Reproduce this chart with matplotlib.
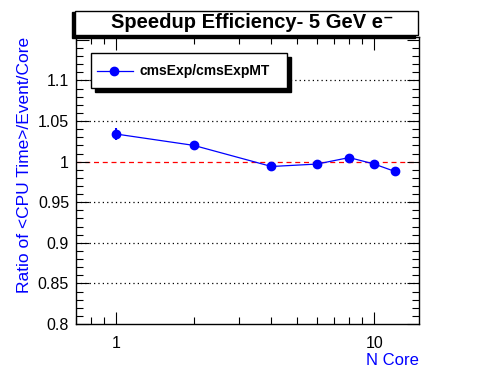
import matplotlib
matplotlib.use("Agg")
import matplotlib.pyplot as plt
from matplotlib.patches import Rectangle
from matplotlib.ticker import FixedLocator, MultipleLocator, LogLocator, NullFormatter, FuncFormatter

# data
n_core = [1, 2, 4, 6, 8, 10, 12]
ratio = [1.034, 1.020, 0.994, 0.997, 1.005, 0.997, 0.988]
ratio_err = [0.0075, 0.002, 0.002, 0.002, 0.002, 0.002, 0.002]
y_grid = [0.85, 0.9, 0.95, 1.05, 1.1]

plt.rcParams["font.family"] = ["Liberation Sans", "DejaVu Sans"]

fig = plt.figure(figsize=(4.96, 3.72), dpi=100)
ax = fig.add_axes([76 / 496, 48 / 372, 343 / 496, 287 / 372])

ax.set_xscale("log")
ax.set_xlim(0.70, 14.9)
ax.set_ylim(0.8, 1.1535)

for g in y_grid:
    ax.axhline(g, color="black", lw=0.9, ls=(0, (1, 2.5)), zorder=1)
ax.axhline(1.0, color="red", lw=0.9, ls=(0, (4, 3)), zorder=1)

ax.errorbar(n_core, ratio, yerr=ratio_err, color="blue", marker="o", ms=6,
            lw=0.9, elinewidth=1.5, capsize=0, zorder=3, label="cmsExp/cmsExpMT")

ax.xaxis.set_major_locator(FixedLocator([1, 10]))
ax.xaxis.set_major_formatter(FuncFormatter(lambda v, p: "%g" % v))
ax.xaxis.set_minor_locator(LogLocator(base=10, subs=range(2, 10)))
ax.xaxis.set_minor_formatter(NullFormatter())
ax.yaxis.set_major_locator(MultipleLocator(0.05))
ax.yaxis.set_minor_locator(MultipleLocator(0.01))
# top tick (1.15) has no label in the reference
ax.yaxis.set_major_formatter(FuncFormatter(lambda v, p: "" if v > 1.12 else "%g" % round(v, 3)))

ax.tick_params(which="both", direction="in", top=True, right=True, labelsize=11.5, width=0.8)
ax.tick_params(which="major", length=9, pad=5)
ax.tick_params(which="minor", length=5)
ax.tick_params(axis="x", which="major", pad=9)
for s in ax.spines.values():
    s.set_linewidth(1.0)

ax.set_xlabel("N Core", color="blue", fontsize=12, loc="right", labelpad=1)
ax.set_ylabel("Ratio of <CPU Time>/Event/Core", color="blue", fontsize=12.5, loc="top", labelpad=4)

# title box with shadow
fig.patches.append(Rectangle((72 / 496, 1 - 38 / 372), 343 / 496, 26 / 372,
                             transform=fig.transFigure, facecolor="black", edgecolor="black", zorder=5))
fig.patches.append(Rectangle((75 / 496, 1 - 35 / 372), 343 / 496, 24 / 372,
                             transform=fig.transFigure, facecolor="white", edgecolor="black", lw=1, zorder=6))
fig.text(252 / 496, 1 - 23 / 372, "Speedup Efficiency- 5 GeV e\u207b", ha="center", va="center",
         fontsize=14.5, fontweight="bold", zorder=7)

# legend box with shadow
fig.patches.append(Rectangle((95 / 496, 1 - 92 / 372), 196 / 496, 35 / 372,
                             transform=fig.transFigure, facecolor="black", edgecolor="black", zorder=5))
fig.patches.append(Rectangle((91 / 496, 1 - 88 / 372), 196 / 496, 35 / 372,
                             transform=fig.transFigure, facecolor="white", edgecolor="black", lw=1, zorder=6))
fig.lines.append(plt.Line2D([97 / 496, 133 / 496], [1 - 70.5 / 372] * 2, transform=fig.transFigure,
                            color="blue", lw=0.9, marker=None, zorder=7))
fig.lines.append(plt.Line2D([114 / 496], [1 - 70.5 / 372], transform=fig.transFigure,
                            color="blue", marker="o", ms=6, zorder=7))
fig.text(139 / 496, 1 - 70.5 / 372, "cmsExp/cmsExpMT", ha="left", va="center",
         fontsize=10, fontweight="bold", zorder=7)

fig.savefig("out.png", dpi=100)
